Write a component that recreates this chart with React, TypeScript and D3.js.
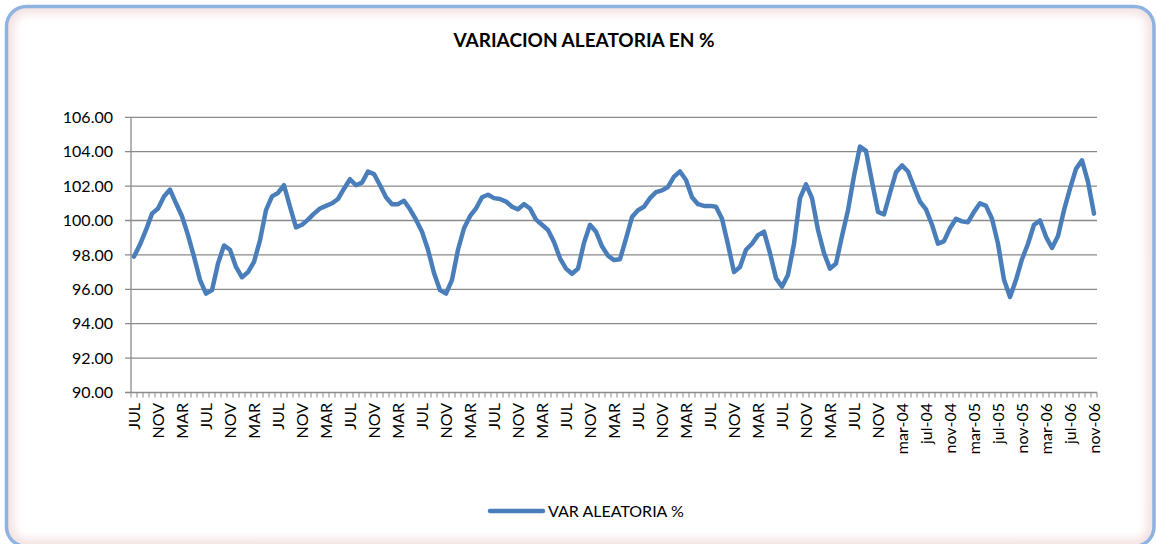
import React from "react";
import * as d3 from "d3";

const TITLE = "VARIACION ALEATORIA EN %";
const SERIES_NAME = "VAR ALEATORIA %";

// monthly values, JUL (first) ... nov-06 (last)
const values: number[] = [
  97.9, 98.6, 99.45, 100.4, 100.7, 101.4, 101.8, 101.0, 100.25, 99.15,
  97.9, 96.55, 95.75, 95.95, 97.5, 98.55, 98.3, 97.3, 96.7, 97.0,
  97.6, 98.85, 100.6, 101.4, 101.6, 102.05, 100.8, 99.6, 99.75, 100.05,
  100.4, 100.7, 100.85, 101.0, 101.25, 101.85, 102.4, 102.05, 102.2, 102.85,
  102.7, 102.05, 101.35, 100.95, 100.95, 101.15, 100.65, 100.05, 99.35, 98.3,
  96.95, 95.95, 95.75, 96.55, 98.3, 99.55, 100.25, 100.7, 101.35, 101.5,
  101.3, 101.25, 101.1, 100.8, 100.65, 100.95, 100.7, 100.05, 99.75, 99.45,
  98.75, 97.8, 97.2, 96.9, 97.2, 98.7, 99.75, 99.35, 98.5, 97.95,
  97.7, 97.75, 98.95, 100.2, 100.6, 100.8, 101.3, 101.65, 101.75, 101.95,
  102.55, 102.85, 102.35, 101.35, 100.95, 100.85, 100.85, 100.8, 100.1, 98.6,
  97.0, 97.3, 98.3, 98.65, 99.15, 99.35, 98.1, 96.65, 96.15, 96.85,
  98.65, 101.3, 102.1, 101.3, 99.45, 98.1, 97.2, 97.5, 99.1, 100.6,
  102.6, 104.3, 104.05, 102.25, 100.5, 100.35, 101.6, 102.8, 103.2, 102.85,
  101.95, 101.1, 100.65, 99.75, 98.65, 98.8, 99.55, 100.1, 99.95, 99.9,
  100.5, 101.0, 100.85, 100.1, 98.65, 96.55, 95.55, 96.55, 97.75, 98.65,
  99.75, 100.0, 99.05, 98.4, 99.1, 100.6, 101.85, 103.0, 103.5, 102.25,
  100.4,
];

// one label every 4 months
const tickLabels: string[] = [
  "JUL", "NOV", "MAR", "JUL", "NOV", "MAR", "JUL", "NOV", "MAR", "JUL",
  "NOV", "MAR", "JUL", "NOV", "MAR", "JUL", "NOV", "MAR", "JUL", "NOV",
  "MAR", "JUL", "NOV", "MAR", "JUL", "NOV", "MAR", "JUL", "NOV", "MAR",
  "JUL", "NOV", "mar-04", "jul-04", "nov-04", "mar-05", "jul-05", "nov-05",
  "mar-06", "jul-06", "nov-06",
];
const LABEL_STEP = 4;

const yTicks: number[] = [90, 92, 94, 96, 98, 100, 102, 104, 106];

const W = 1156;
const H = 544;
const FONT = "Lato, 'Open Sans', sans-serif";
const LINE_COLOR = "#4A7EBB";
const GRID = "#8a8a8a";

export default function App() {
  const idx = d3.range(values.length);
  const x = d3.scaleBand<number>().domain(idx).range([131, 1097]).padding(0);
  const y = d3.scaleLinear().domain([90, 106]).range([392.5, 117.3]);
  const cx = (i: number) => (x(i) as number) + x.bandwidth() / 2;

  const line = d3
    .line<number>()
    .x((_, i) => cx(i))
    .y((d) => y(d));

  const boundaries = d3.range(values.length + 1).map((k) => 131 + k * x.bandwidth());

  return (
    <svg
      width={W}
      height={H}
      style={{ position: "absolute", left: 0, top: 0, background: "#fff" }}
      fontFamily={FONT}
    >
      <defs>
        <clipPath id="frameClip">
          <rect x={6.5} y={6.5} width={1147.5} height={540} rx={20} ry={20} />
        </clipPath>
        <filter id="glow" x="-5%" y="-5%" width="110%" height="110%">
          <feGaussianBlur stdDeviation={5} />
        </filter>
      </defs>

      {/* frame */}
      <rect x={6.5} y={6.5} width={1147.5} height={540} rx={20} ry={20} fill="#fff" />
      <g clipPath="url(#frameClip)">
        <rect
          x={6.5}
          y={6.5}
          width={1147.5}
          height={540}
          rx={20}
          ry={20}
          fill="none"
          stroke="#f0d8d8"
          strokeWidth={14}
          filter="url(#glow)"
          opacity={0.8}
        />
      </g>
      <rect
        x={6.5}
        y={6.5}
        width={1147.5}
        height={540}
        rx={20}
        ry={20}
        fill="none"
        stroke="#8db3e2"
        strokeWidth={3.5}
      />

      {/* title */}
      <text x={584} y={47} textAnchor="middle" fontWeight="bold" fontSize={19} fill="#000">
        {TITLE}
      </text>

      {/* gridlines */}
      {yTicks.map((t) => (
        <line key={t} x1={125} x2={1097} y1={y(t)} y2={y(t)} stroke={GRID} strokeWidth={1.3} />
      ))}

      {/* y axis */}
      <line x1={131} x2={131} y1={y(106)} y2={y(90)} stroke={GRID} strokeWidth={1.3} />
      {yTicks.map((t) => (
        <text key={"yl" + t} x={113} y={y(t)} dy="0.36em" textAnchor="end" fontSize={16} fill="#000">
          {t.toFixed(2)}
        </text>
      ))}

      {/* x axis ticks */}
      {boundaries.map((bx, k) => (
        <line key={"xt" + k} x1={bx} x2={bx} y1={y(90)} y2={y(90) + 5} stroke={GRID} strokeWidth={1} />
      ))}

      {/* x labels */}
      {tickLabels.map((lab, k) => {
        const px = cx(k * LABEL_STEP);
        const py = 403;
        return (
          <text
            key={"xl" + k}
            transform={`translate(${px},${py}) rotate(-90)`}
            dy="0.36em"
            textAnchor="end"
            fontSize={16}
            fill="#000"
          >
            {lab}
          </text>
        );
      })}

      {/* series */}
      <path
        d={line(values) || ""}
        fill="none"
        stroke={LINE_COLOR}
        strokeWidth={4.5}
        strokeLinejoin="round"
        strokeLinecap="round"
      />

      {/* legend */}
      <line x1={490} x2={543} y1={511} y2={511} stroke={LINE_COLOR} strokeWidth={4.5} strokeLinecap="round" />
      <text x={548} y={517} fontSize={16} fill="#000">
        {SERIES_NAME}
      </text>
    </svg>
  );
}
